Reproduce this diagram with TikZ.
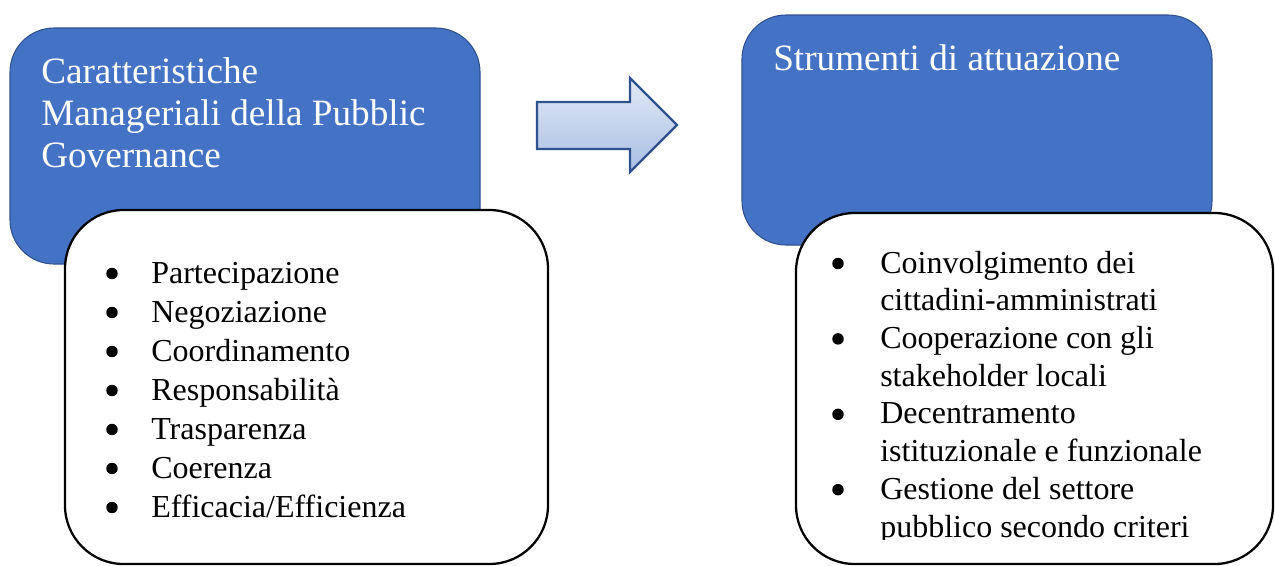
\documentclass[tikz,border=0pt]{standalone}
\usepackage{fontspec}
\setmainfont{Liberation Serif}
\definecolor{boxblue}{HTML}{4472C4}
\definecolor{boxedge}{HTML}{2F528F}
\definecolor{arrowtop}{HTML}{E3EAF6}
\definecolor{arrowbot}{HTML}{A7BEE3}
\tikzset{
  headbox/.style={rectangle, rounded corners=33pt, fill=boxblue, draw=boxedge,
    line width=0.8pt, inner sep=0pt, outer sep=0pt},
  listbox/.style={rectangle, rounded corners=44pt, fill=white, draw=black,
    line width=1.7pt, inner sep=0pt, outer sep=0pt},
  headtext/.style={anchor=base west, inner sep=0pt, text=white,
    font=\fontsize{27.9pt}{33pt}\selectfont},
  itemtext/.style={anchor=base west, inner sep=0pt, text=black,
    font=\fontsize{24pt}{29pt}\selectfont},
  dot/.style={circle, fill=black, inner sep=0pt, minimum size=8.6pt}
}
\begin{document}
\begin{tikzpicture}[x=0.75pt, y=-0.75pt]
\useasboundingbox (0,0) rectangle (1275,565);

% left column: heading box and its list
\node[headbox, minimum width=352.5pt, minimum height=177pt] (lhead) at (245,146) {};
\node[listbox, minimum width=362.25pt, minimum height=265.5pt] (llist) at (306.5,387) {};

\node[headtext] (lh1) at (41,83) {Caratteristiche};
\node[headtext] (lh2) at (41,125) {Manageriali della Pubblic};
\node[headtext] (lh3) at (41,167) {Governance};

\foreach \t [count=\i] in {Partecipazione, Negoziazione, Coordinamento,
    Responsabilità, Trasparenza, Coerenza, Efficacia/Efficienza} {
  \node[dot] (lb\i) at (112, 273.5+39*\i-39) {};
  \node[itemtext] (li\i) at (151, 283+39*\i-39) {\t};
}

% block arrow between the columns
\path[draw=boxedge, line width=1.8pt, line join=miter,
      top color=arrowtop, bottom color=arrowbot]
  (537,102) -- (630,102) -- (630,78) -- (677,125)
  -- (630,172) -- (630,149) -- (537,149) -- cycle;

% right column: heading box and its list
\node[headbox, minimum width=352.5pt, minimum height=172.5pt] (rhead) at (977,130) {};
\node[listbox, minimum width=357.75pt, minimum height=263.25pt] (rlist) at (1034.5,388.5) {};

\node[headtext] (rh1) at (773,70) {Strumenti di attuazione};

\node[dot] (rb1) at (838,263.5) {};
\node[dot] (rb2) at (838,338.9) {};
\node[dot] (rb3) at (838,414.3) {};
\node[dot] (rb4) at (838,489.7) {};
\begin{scope}
  \clip (0,0) rectangle (1275,539);
  \node[itemtext] (ri1) at (880,273) {Coinvolgimento dei};
  \node[itemtext] (ri2) at (880,310.7) {cittadini-amministrati};
  \node[itemtext] (ri3) at (880,348.4) {Cooperazione con gli};
  \node[itemtext] (ri4) at (880,386.1) {stakeholder locali};
  \node[itemtext] (ri5) at (880,423.8) {Decentramento};
  \node[itemtext] (ri6) at (880,461.5) {istituzionale e funzionale};
  \node[itemtext] (ri7) at (880,499.2) {Gestione del settore};
  \node[itemtext] (ri8) at (880,537) {pubblico secondo criteri};
\end{scope}
\end{tikzpicture}
\end{document}
